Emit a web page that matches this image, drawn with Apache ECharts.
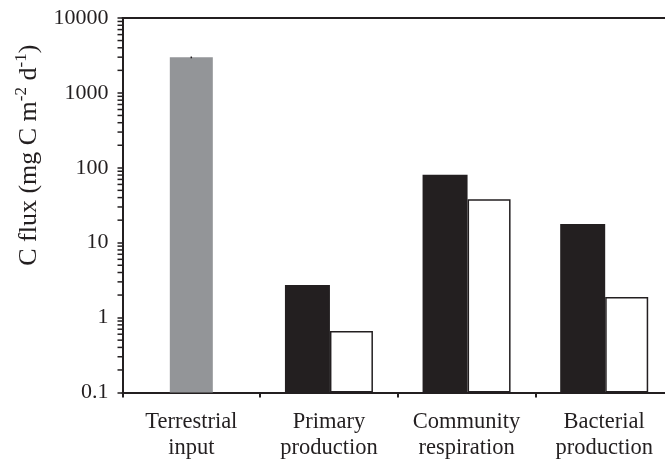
<!DOCTYPE html>
<html>
<head>
<meta charset="utf-8">
<script src="https://cdn.jsdelivr.net/npm/echarts@6/dist/echarts.min.js"></script>
<style>html,body{margin:0;padding:0;background:#fff}#c{width:665px;height:460px}</style>
</head>
<body>
<div id="c"></div>
<script>
var categories = ['Terrestrial\ninput', 'Primary\nproduction', 'Community\nrespiration', 'Bacterial\nproduction'];
var terrestrial = [3000, '-', '-', '-'];
var terrestrialErr = [[0, 2900, 3060]];
var seriesBlack = ['-', 2.72, 81, 17.8];
var seriesWhite = ['-', 0.66, 38, 1.88];
var yTickLabels = ['0.1', '1', '10', '100', '1000', '10000'];
var minorTickValues = [];
[0.1, 1, 10, 100, 1000].forEach(function (d) {
  for (var k = 2; k <= 9; k++) minorTickValues.push(+(k * d).toPrecision(2));
});

var ink = '#231f20';
var font = 'Liberation Serif';
var chart = echarts.init(document.getElementById('c'));
chart.setOption({
  animation: false,
  grid: { left: 122.5, top: 18, bottom: 67.5, right: -8, outerBoundsMode: 'none', containLabel: false },
  xAxis: [{
    type: 'category', data: categories, position: 'bottom',
    axisLine: { lineStyle: { color: ink, width: 2 } },
    axisTick: { show: true, length: 5, lineStyle: { color: ink, width: 2 } },
    axisLabel: { interval: 0, color: ink, fontFamily: font, fontSize: 22.5, lineHeight: 26.5, margin: 16 }
  }, {
    type: 'category', data: categories, position: 'top',
    axisLine: { lineStyle: { color: ink, width: 2 } },
    axisTick: { show: false }, axisLabel: { show: false }
  }],
  yAxis: {
    type: 'log', logBase: 10, min: 0.1, max: 10000, startValue: 0.1,
    axisLine: { show: true, lineStyle: { color: ink, width: 2 } },
    axisTick: { show: true, length: 5, lineStyle: { color: ink, width: 1.5 } },
    splitLine: { show: false },
    axisLabel: {
      color: ink, fontFamily: font, fontSize: 22, margin: 14,
      formatter: function (v, i) { return yTickLabels[i]; }
    },
    name: '{n|C flux (mg C m}{s|-2}{n| d}{s|-1}{n|)}',
    nameLocation: 'middle', nameGap: 77, nameRotate: 90,
    nameTextStyle: {
      padding: [0, 0, 0, 100],
      rich: {
        n: { fontFamily: font, fontSize: 26, color: ink, verticalAlign: 'bottom', lineHeight: 30 },
        s: { fontFamily: font, fontSize: 17, color: ink, verticalAlign: 'top', lineHeight: 30 }
      }
    }
  },
  series: [{
    type: 'bar', xAxisIndex: 1, data: terrestrial, barWidth: 43,
    itemStyle: { color: '#939598' }
  }, {
    type: 'custom', xAxisIndex: 1, data: terrestrialErr,
    renderItem: function (params, api) {
      var a = api.coord([api.value(0), api.value(1)]);
      var b = api.coord([api.value(0), api.value(2)]);
      return { type: 'line', shape: { x1: a[0], y1: a[1], x2: b[0], y2: b[1] }, style: { stroke: ink, lineWidth: 1.5 } };
    }, z: 5
  }, {
    type: 'bar', xAxisIndex: 0, data: seriesBlack, barWidth: 45, barGap: '0%',
    itemStyle: { color: ink }
  }, {
    type: 'bar', xAxisIndex: 0, data: seriesWhite, barWidth: 43, barGap: '0%',
    itemStyle: { color: '#ffffff', borderColor: ink, borderWidth: 1.5 }
  }, {
    type: 'custom', xAxisIndex: 0, clip: false, silent: true,
    data: minorTickValues.map(function (v) { return [0, v]; }),
    renderItem: function (params, api) {
      var p = api.coord([api.value(0), api.value(1)]);
      var x = params.coordSys.x;
      return { type: 'line', shape: { x1: x - 5, y1: p[1], x2: x, y2: p[1] }, style: { stroke: ink, lineWidth: 1.5 } };
    }
  }]
});
</script>
</body>
</html>
